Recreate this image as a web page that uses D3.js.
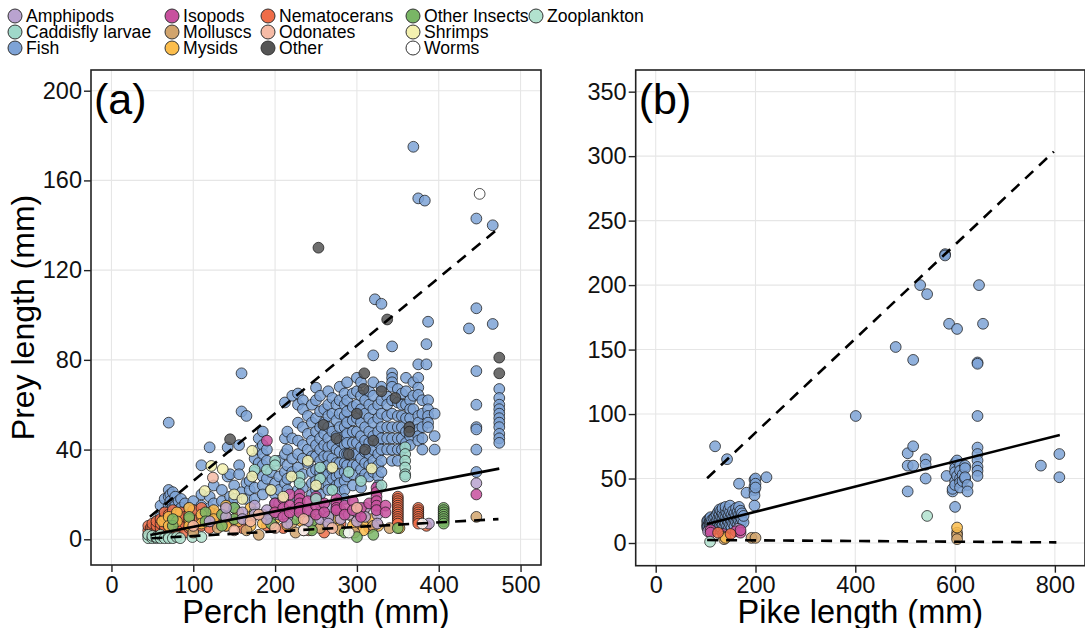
<!DOCTYPE html>
<html><head><meta charset="utf-8">
<script src="https://cdn.jsdelivr.net/npm/d3@7/dist/d3.min.js"></script>
<style>body{margin:0;background:#fff}svg{display:block;font-family:Arial,"Liberation Sans",sans-serif}</style>
</head><body><svg id="c" width="1085" height="628"></svg>
<script>
// ---- categories & legend ----
const categories = ["Amphipods","Caddisfly larvae","Fish","Isopods","Molluscs","Mysids","Nematocerans","Odonates","Other","Other Insects","Shrimps","Worms","Zooplankton"];
const catColors = ["#b9a3d0","#9fd8c9","#7ea3d6","#c8509e","#d1a46d","#fbbd4c","#ef6d48","#f6bba6","#555555","#79b665","#f4f1b0","#ffffff","#b2e2cf"];

// ---- tick labels ----
const xTicksA = [0,100,200,300,400,500];
const yTicksA = [0,40,80,120,160,200];
const xTicksB = [0,200,400,600,800];
const yTicksB = [0,50,100,150,200,250,300,350];

// ---- panel (a): perch length vs prey length, grouped by predator [length, [prey lengths]] ----
const perchFish = [[55,[5,8]],[60,[15,10]],[65,[18,12,8]],[70,[52,22,19,15,12]],[72,[20,17,13]],[75,[21,16,14,10]],[78,[19,15]],[82,[17,13]],[85,[18,14,11]],[90,[16,12]],[95,[14]],[100,[17,13]],[110,[33,20,15]],[120,[41,19,14]],[125,[24,16]],[135,[22,17]],[142,[41,28]],[145,[29,19]],[150,[24,18,14]],[156,[42,33,29]],[159,[74,57,21]],[165,[55,25,18]],[169,[22,26]],[175,[23,36,30,18]],[180,[40,45,34]],[185,[48,42,38,33,28,24,20]],[190,[40,35,27]],[195,[30,22]],[200,[25,20,16]],[205,[35,28,22]],[212,[61,45,38,30,25]],[215,[48,40,33,27,22]],[221,[64,45,36,30]],[228,[65,60,52,44,38,32,27,22,18]],[234,[62,58,50,42,36,29,23]],[240,[55,47,40,34]],[245,[60,52,44,37,30,25,20]],[250,[67.6,62,54,48,42,37,31,26,22]],[255,[64,57,50,45,40,35,30,25,20]],[260,[58,52,47,42,37,32,28]],[265,[66,60,55,50,45,41,37,33,29,25,22]],[270,[63,56,48,42,36,31,27]],[275,[60,53,46,40,34,28,24]],[279,[68,62,56,50,44,39,34,29,25,21]],[285,[65,60,55,50,46,42,38,34,30,26,22,18]],[288,[70,62,57,52,47,43,38,33,28]],[295,[65,59,53,48,43,38,33,29,24]],[300,[72,66,60,54,48,43,38,33]],[305,[70,64,58,52,46,41,36,31,27,23]],[310,[62,56,50,44,39,34,29]],[315,[66,60,54,48,43,38,33,28]],[320,[82,70,64,58,52,46,40,35,30]],[322,[107]],[326,[60,54,48,43,38,33,28,24]],[330,[105,68,62,56,50,45,40,35,30]],[337,[63.6,60,55,50,45,40]],[343,[86,74,72,70,68,62,56,50,45,40,35]],[350,[67,61,55,50,45,40,35]],[355,[65,60,55,50,45,40]],[360,[72,66,60,54,48,43]],[365,[62,58,54,50,46,42]],[369,[175,70,64,58]],[375,[152,78,72,67.6,64.4,55,52,49,46,44]],[380,[62,56,50,45,40]],[383,[151]],[385,[87,78]],[387,[97,62,58,55,52,50]],[395,[56,46,40]],[437,[94]],[446,[143,103,75,60,50,49,40,30]],[466,[140,96]],[474,[67,63,60,58,56,54,52,50,47,45,43]]];
const perchAmphipods = [[120,[8]],[140,[10,14]],[160,[12,9]],[175,[15,11]],[190,[13,9]],[205,[16,11]],[215,[10,7]],[225,[14]],[240,[12,8]],[255,[16,12,9]],[265,[14,10,7]],[280,[13,9]],[290,[11]],[300,[12,8]],[310,[14,10]],[325,[11,7]],[388,[7]],[446,[25]]];
const perchCaddis = [[175,[31]],[190,[31]],[200,[35,33]],[230,[28,25]],[255,[32,27]],[270,[22]],[290,[30]],[305,[26]],[330,[24]],[250,[18]],[359,[41,38,35,32,29,28]]];
const perchIsopods = [[190,[44]],[200,[16,12]],[210,[18,14,10]],[218,[20,15,12]],[230,[20,18,16,14,12]],[240,[17,13]],[250,[19,15,11]],[260,[16,12]],[275,[18,16,14,13]],[285,[15,11]],[295,[17,13]],[305,[14,10]],[315,[16]],[324,[23,21,19,17,15,13]],[335,[15,12]],[446,[20]]];
const perchMolluscs = [[100,[3]],[130,[5]],[165,[4]],[180,[2]],[198,[6]],[220,[7]],[225,[3]],[255,[5]],[280,[4]],[297,[3]],[320,[6]],[340,[5]],[446,[10]]];
const perchMysids = [[62,[8]],[70,[10,6]],[80,[12,8]],[95,[14,9,6]],[110,[11,7]],[125,[13,9]],[140,[15,10,6]],[155,[12,8]],[170,[14,10,6]],[185,[11,7]],[200,[13,9]],[215,[10,6]],[232,[12,8]],[245,[9,5]],[262,[11,7]],[278,[13,9,5]],[295,[10,6]],[308,[12,8,4]],[318,[9]],[326,[6]],[352,[5]]];
const perchNematocerans = [[45,[2,4,6]],[48,[3,5]],[50,[1,3,5,7]],[55,[2,4,6,8]],[60,[3,5,7,9]],[65,[4,6,8,10,12]],[70,[3,6,9,11]],[75,[5,7,10,13]],[80,[4,8,11]],[85,[6,9,12]],[90,[3,7,10]],[95,[5,8,11]],[100,[4,9,13]],[110,[6,10,14]],[120,[5,8,12]],[130,[7,11]],[140,[6,9]],[150,[8]],[160,[5]],[170,[9]],[190,[6]],[210,[5]],[235,[4,8]],[241,[4]],[260,[3]],[280,[7]],[300,[6]],[315,[5]],[350,[19,18,17,16,15,14,13,12,11,10,9,8,7]],[375,[14,13,12,11,10,9,8,7]],[385,[6]]];
const perchOdonates = [[100,[6]],[124,[27.5]],[150,[4]],[170,[8]],[180,[11]],[200,[5]],[235,[9]],[270,[5]],[300,[14]]];
const perchOther = [[145,[44.6]],[253,[130]],[259,[51]],[275,[45]],[290,[38]],[300,[56]],[308,[67]],[309,[74]],[310,[40]],[320,[44]],[330,[66]],[337,[98]],[347,[63]],[364,[50,48]],[474,[81,74]]];
const perchOtherInsects = [[75,[6,9]],[95,[10]],[115,[12,8]],[135,[11,6]],[150,[14,9]],[175,[12]],[195,[10,7]],[225,[9]],[245,[8,4]],[265,[11]],[285,[3]],[300,[1]],[320,[2]],[350,[5]],[406,[14,13,12,11,10,9,8,7]]];
const perchShrimps = [[114,[21.5]],[122,[32.7]],[136,[31.3]],[150,[20]],[160,[18]],[172,[39.4,28]],[195,[22]],[210,[19]],[220,[28]],[240,[35]],[250,[24]],[270,[32]],[318,[31.6]]];
const perchWorms = [[235,[4]],[290,[3]],[380,[7]],[450,[154]]];
const perchZooplankton = [[45,[0.5,2]],[50,[0.5,1.5]],[55,[0.5,1]],[60,[0.5,2]],[65,[0.5]],[70,[1,0.5]],[75,[0.5]],[80,[1]],[84,[0.5]],[99,[1]],[110,[1]]];

// ---- panel (b): pike length vs prey length ----
const pikeFish = [[103,[14,17,12]],[105,[15,18,11,13]],[108,[16,12,19,14]],[110,[13,17,20,10]],[113,[15,18,12]],[116,[14,19,11]],[119,[75,16,13,20]],[122,[17,12,22]],[125,[15,19,24,11]],[128,[13,18,22,26]],[131,[16,20,25,12]],[134,[14,19,23,27]],[137,[17,21,12]],[140,[15,20,25,28]],[143,[65,18,23,13]],[146,[16,21,26,11]],[149,[14,19,24,29]],[152,[17,22,12]],[155,[15,20,25]],[158,[18,23,13]],[161,[16,21,27]],[164,[14,19,24]],[167,[46,17,22,28]],[170,[15,20,25]],[173,[18,23]],[176,[16,21]],[182,[39]],[198,[49,44,41,37,29]],[200,[50,46,43]],[222,[51]],[401,[98.5]],[481,[152]],[505,[69.6,60,40]],[516,[75,60,142]],[530,[200]],[541,[65,60.7,50]],[544,[193]],[580,[224,223]],[583,[52]],[588,[170]],[595,[40,42]],[600,[28,62,58,55,48,45]],[604,[166,64,52]],[610,[60,56,50,47,43]],[615,[53,48]],[620,[60,58,50,51]],[625,[45,40]],[645,[140,139,98.5,74,69,64,59,56,52]],[648,[200]],[656,[170]],[772,[60]],[809,[69,51]]];
const pikeAmphipods = [[105,[9]],[165,[11]]];
const pikeIsopods = [[110,[10,8]],[135,[7]],[160,[9]],[170,[8,10]]];
const pikeMolluscs = [[137,[5,3]],[192,[4]],[200,[4]],[604,[8,6,3]]];
const pikeMysids = [[140,[4]],[604,[12]]];
const pikeNematocerans = [[125,[8]],[150,[7]]];
const pikeZooplankton = [[109,[1]],[544,[21]]];

// ---- quantile regression lines: [x0,y0,x1,y1] ----
const linesA = {lower:[49,0.45,473,9], median:[47.5,1.9,474,31.5], upper:[47,10,473,138.6]};
const linesB = {lower:[103,2.3,803,0.5], median:[103,14.7,810,83.8], upper:[103,50.2,798,303.5]};

// draw order (later = on top)
const perchData = [["Fish",perchFish],["Nematocerans",perchNematocerans],["Zooplankton",perchZooplankton],["Mysids",perchMysids],["Molluscs",perchMolluscs],["Other Insects",perchOtherInsects],["Amphipods",perchAmphipods],["Isopods",perchIsopods],["Odonates",perchOdonates],["Caddisfly larvae",perchCaddis],["Shrimps",perchShrimps],["Other",perchOther],["Worms",perchWorms]];
const pikeData = [["Fish",pikeFish],["Amphipods",pikeAmphipods],["Isopods",pikeIsopods],["Molluscs",pikeMolluscs],["Mysids",pikeMysids],["Nematocerans",pikeNematocerans],["Zooplankton",pikeZooplankton]];

const color = d3.scaleOrdinal().domain(categories).range(catColors);
const svg = d3.select("#c");

function flatten(list){
  const pts=[];
  for(const [k,groups] of list) for(const [x,ys] of groups) for(const y of ys) pts.push({cat:k,x,y});
  return pts;
}

function panel(cfg){
  const {x,y,xt,yt,data,lines,label,xtitle,ytitle} = cfg;
  const [L,R]=x.range(), [B,T]=y.range();
  const g = svg.append("g");
  const clipId = "clip"+label.replace(/\W/g,"");
  svg.append("clipPath").attr("id",clipId).append("rect").attr("x",L).attr("y",T).attr("width",R-L).attr("height",B-T);
  g.selectAll(".gx").data(xt).join("line").attr("x1",d=>x(d)).attr("x2",d=>x(d)).attr("y1",T).attr("y2",B).attr("stroke","#e6e6e6").attr("stroke-width",1.1);
  g.selectAll(".gy").data(yt).join("line").attr("y1",d=>y(d)).attr("y2",d=>y(d)).attr("x1",L).attr("x2",R).attr("stroke","#e6e6e6").attr("stroke-width",1.1);
  const pts = flatten(data);
  g.append("g").attr("clip-path",`url(#${clipId})`).selectAll("circle").data(pts).join("circle")
    .attr("cx",d=>x(d.x)).attr("cy",d=>y(d.y)).attr("r",5.4)
    .attr("fill",d=>color(d.cat)).attr("fill-opacity",0.85)
    .attr("stroke","#1a1a1a").attr("stroke-opacity",0.75).attr("stroke-width",1);
  const ln = g.append("g").attr("clip-path",`url(#${clipId})`);
  for(const k of ["lower","median","upper"]){
    const v=lines[k];
    ln.append("line").attr("x1",x(v[0])).attr("y1",y(v[1])).attr("x2",x(v[2])).attr("y2",y(v[3]))
      .attr("stroke","#000").attr("stroke-width",2.6)
      .attr("stroke-dasharray",k==="median"?null:"11,8");
  }
  g.append("rect").attr("x",L).attr("y",T).attr("width",R-L).attr("height",B-T).attr("fill","none").attr("stroke","#222").attr("stroke-width",1.6);
  const ax = d3.axisBottom(x).tickValues(xt).tickSize(7).tickPadding(2).tickFormat(d3.format("d"));
  const axg = g.append("g").attr("transform",`translate(0,${B})`).call(ax);
  const ay = d3.axisLeft(y).tickValues(yt).tickSize(7).tickPadding(2).tickFormat(d3.format("d"));
  const ayg = g.append("g").attr("transform",`translate(${L},0)`).call(ay);
  for(const a of [axg,ayg]){
    a.select(".domain").remove();
    a.selectAll(".tick line").attr("stroke","#222").attr("stroke-width",1.4);
    a.selectAll(".tick text").attr("fill","#111").style("font-size","23.5px").style("font-family","Arial, 'Liberation Sans', sans-serif");
  }
  axg.selectAll(".tick text").attr("dy","0.8em");
  g.append("text").attr("x",L+3).attr("y",T+44).text(label).attr("font-size",43).attr("fill","#000");
  g.append("text").attr("x",(L+R)/2).attr("y",623).attr("text-anchor","middle").attr("font-size",32.5).attr("fill","#000").text(xtitle);
  if(ytitle) g.append("text").attr("transform",`translate(34,${(T+B)/2}) rotate(-90)`).attr("text-anchor","middle").attr("font-size",32).attr("fill","#000").text(ytitle);
}

panel({x:d3.scaleLinear().domain([-25,525]).range([91,541]), y:d3.scaleLinear().domain([-11.46,209.23]).range([565,70]),
  xt:xTicksA, yt:yTicksA, data:perchData, lines:linesA, label:"(a)", xtitle:"Perch length (mm)", ytitle:"Prey length (mm)"});
panel({x:d3.scaleLinear().domain([-40.1,860.4]).range([635.7,1085]), y:d3.scaleLinear().domain([-17.6,366.8]).range([565.7,70]),
  xt:xTicksB, yt:yTicksB, data:pikeData, lines:linesB, label:"(b)", xtitle:"Pike length (mm)", ytitle:null});

// legend (column-major, 3 rows)
const colX = [15,172,268,413,536];
const lg = svg.append("g");
categories.forEach((c,i)=>{
  const col=Math.floor(i/3), row=i%3;
  const cx=colX[col], cy=16+row*16;
  lg.append("circle").attr("cx",cx).attr("cy",cy).attr("r",7).attr("fill",color(c)).attr("stroke","#333").attr("stroke-width",1);
  lg.append("text").attr("x",cx+11).attr("y",cy+6.3).attr("font-size",17.6).attr("fill","#000").text(c);
});
</script></body></html>
